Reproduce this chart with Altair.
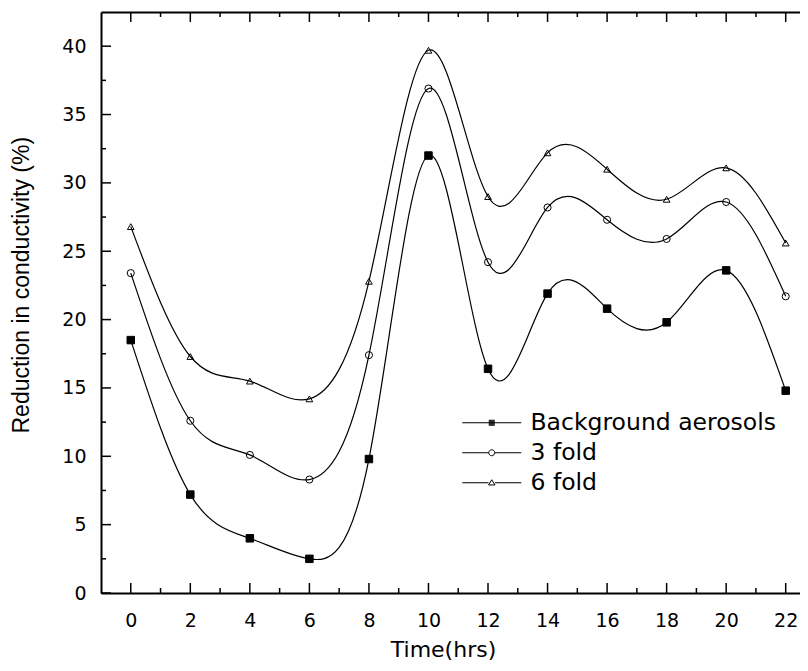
import altair as alt
import pandas as pd

# ---- data ----
hours = [0, 2, 4, 6, 8, 10, 12, 14, 16, 18, 20, 22]
background = [18.5, 7.2, 4.0, 2.5, 9.8, 32.0, 16.4, 21.9, 20.8, 19.8, 23.6, 14.8]
fold3 = [23.4, 12.6, 10.1, 8.3, 17.4, 36.9, 24.2, 28.2, 27.3, 25.9, 28.6, 21.7]
fold6 = [26.8, 17.3, 15.5, 14.2, 22.8, 39.7, 29.0, 32.2, 31.0, 28.8, 31.1, 25.6]
series_names = ["Background aerosols", "3 fold", "6 fold"]
x_major_ticks = list(range(0, 23, 2))
x_minor_ticks = list(range(1, 23, 2))
y_major_ticks = [0, 5, 10, 15, 20, 25, 30, 35, 40]
y_minor_ticks = [2.5, 7.5, 12.5, 17.5, 22.5, 27.5, 32.5, 37.5]

rows = []
for name, vals in zip(series_names, [background, fold3, fold6]):
    for h, v in zip(hours, vals):
        rows.append({"Time": h, "value": v, "series": name})
df = pd.DataFrame(rows)

# the picture is cut on the right, so the plot runs to the page edge
W, H = 699, 581
MAJOR, MINOR = 10, 5
FONT_H = "DejaVu Sans"

xscale = alt.Scale(domain=[-1, 22.48], nice=False, zero=False)
yscale = alt.Scale(domain=[0, 42.5], nice=False, zero=False)

bottom_axis = alt.Axis(
    orient="bottom", values=x_major_ticks, grid=False,
    domain=True, domainColor="black", domainWidth=2,
    ticks=False, tickSize=0,
    labelPadding=18, labelFont=FONT_H, labelFontSize=19, labelColor="black",
    labelOverlap=False, labelFlush=False,
    title="Time(hrs)", titleFont=FONT_H, titleFontSize=22, titleFontWeight="normal",
    titleColor="black", titleX=342, titleY=63, titleBaseline="alphabetic",
    titleAlign="center",
)
left_axis = alt.Axis(
    orient="left", values=y_major_ticks, grid=False,
    domain=True, domainColor="black", domainWidth=2,
    ticks=False, tickSize=0,
    labelPadding=15, labelFont=FONT_H, labelFontSize=19, labelColor="black",
    labelOverlap=False, labelFlush=False,
    title="Reduction in conductivity (%)", titleFont="Liberation Sans", titleFontSize=23,
    titleFontWeight="normal", titleColor="black", titleAngle=270,
    titleX=-80, titleY=421, titleBaseline="middle", titleAlign="left",
)
top_axis = alt.Axis(
    orient="top", grid=False, domain=True, domainColor="black", domainWidth=2,
    ticks=False, labels=False, title=None,
)

lines = alt.Chart(df).mark_line(
    interpolate="natural", color="black", strokeWidth=1.2, opacity=1
).encode(
    x=alt.X("Time:Q", scale=xscale, axis=bottom_axis),
    y=alt.Y("value:Q", scale=yscale, axis=left_axis),
    detail="series:N",
)

points = alt.Chart(df).mark_point(
    filled=True, opacity=1, stroke="black", strokeWidth=1
).encode(
    x=alt.X("Time:Q", scale=xscale, axis=top_axis),
    y=alt.Y("value:Q", scale=yscale, axis=None),
    shape=alt.Shape("series:N", scale=alt.Scale(domain=series_names,
                    range=["square", "circle", "triangle-up"]), legend=None),
    fill=alt.Fill("series:N", scale=alt.Scale(domain=series_names,
                  range=["black", "transparent", "transparent"]), legend=None),
    size=alt.Size("series:N", scale=alt.Scale(domain=series_names,
                  range=[56, 45, 64]), legend=None),
)

# legend symbols: line with the marker in its middle (unit = 10 px)
square_fill = "".join(f"M-0.3,{y:.2f}H0.3" for y in [-0.25, -0.15, -0.05, 0.05, 0.15, 0.25])
legend_paths = [
    "M-2.95,0H2.95" + square_fill,
    "M-2.95,0H-0.3M0.3,0H2.95M-0.3,0A0.3,0.3 0 1,0 0.3,0A0.3,0.3 0 1,0 -0.3,0Z",
    "M-2.95,0H-0.32M0.32,0H2.95M0,-0.3L0.32,0.22H-0.32Z",
]
legend_def = alt.Legend(
    orient="none", legendX=379, legendY=399, title=None,
    symbolSize=400, symbolStrokeWidth=1, symbolStrokeColor="black",
    symbolFillColor="transparent",
    labelFont=FONT_H, labelFontSize=23.5, labelColor="black", labelOffset=27,
    labelLimit=0, rowPadding=5, padding=0,
)
legend_layer = alt.Chart(df).transform_filter("false").mark_point(
    filled=False, color="black", opacity=1, strokeWidth=1
).encode(
    x=alt.X("Time:Q", scale=xscale, axis=None),
    y=alt.Y("value:Q", scale=yscale, axis=None),
    shape=alt.Shape("series:N", scale=alt.Scale(domain=series_names, range=legend_paths),
                    legend=legend_def),
)

# ---- inward tick marks (positions from the tick arrays, through the scales) ----
def x_ticks(values, y_from, y_to):
    return alt.Chart(pd.DataFrame({"t": values})).mark_rule(
        color="black", strokeWidth=1.5, strokeCap="butt"
    ).encode(
        x=alt.X("t:Q", scale=xscale, axis=None),
        y=alt.value(y_from), y2=alt.value(y_to),
    )


def y_ticks(values, x_from, x_to):
    return alt.Chart(pd.DataFrame({"t": values})).mark_rule(
        color="black", strokeWidth=1.5, strokeCap="butt"
    ).encode(
        y=alt.Y("t:Q", scale=yscale, axis=None),
        x=alt.value(x_from), x2=alt.value(x_to),
    )


tick_layers = [
    x_ticks(x_major_ticks, H, H - MAJOR),
    x_ticks(x_minor_ticks, H, H - MINOR),
    x_ticks(x_major_ticks, 0, MAJOR),
    x_ticks(x_minor_ticks, 0, MINOR),
    y_ticks(y_major_ticks, 0, MAJOR),
    y_ticks(y_minor_ticks, 0, MINOR),
]

chart = alt.layer(lines, points, legend_layer, *tick_layers).resolve_scale(
    shape="independent"
).resolve_axis(
    x="independent", y="independent"
).properties(
    width=W, height=H,
    autosize=alt.AutoSizeParams(type="none"),
    padding={"left": 93, "top": 4, "right": 0, "bottom": 70},
    background="white",
).configure_view(stroke=None)

chart.save("out.html", embed_options={"renderer": "svg", "actions": False})
